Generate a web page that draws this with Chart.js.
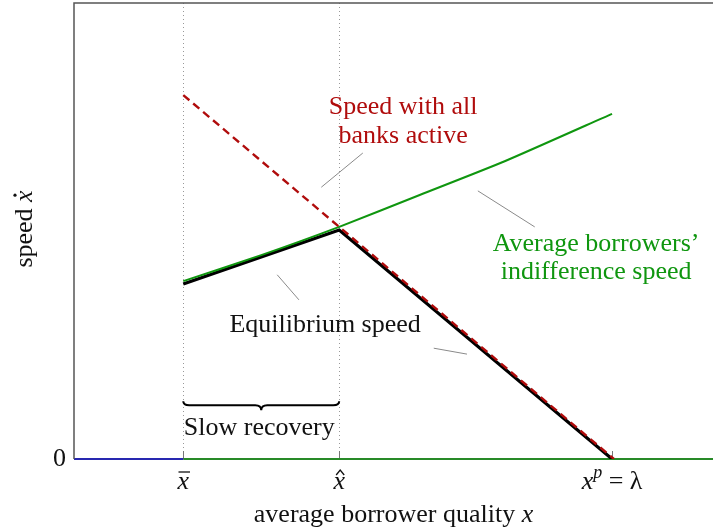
<!DOCTYPE html>
<html>
<head>
<meta charset="utf-8">
<script src="https://cdn.jsdelivr.net/npm/chart.js@4/dist/chart.umd.min.js"></script>
<style>html,body{margin:0;padding:0;background:#fff}canvas{display:block}</style>
</head>
<body>
<canvas id="speedChart" width="713" height="531"></canvas>
<script>
// positions on the quality axis (x) and speed axis (y), arbitrary units
const xBar = 1.71, xHat = 4.15, xP = 8.42, xMax = 10, yMax = 10;

const avgSpeedX = [1.71, 2.93, 4.15, 5.41, 6.74, 8.42];
const avgSpeedY = [3.90, 4.47, 5.09, 5.79, 6.53, 7.57];
const allActiveX = [1.71, 8.45];
const allActiveY = [7.98, 0];
const equilibriumX = [1.71, 4.15, 8.42];
const equilibriumY = [3.84, 5.02, 0];
const zeroLowX = [0, 1.71];
const zeroHighX = [1.71, 10];

const tickPositions = [xBar, xHat, xP];

const SERIF = '"Liberation Serif", serif';
const RED = "#b00c0c";
const GREEN = "#0f960f";

function pts(xs, ys) {
    return xs.map((x, i) => ({x: x, y: ys === null ? 0 : ys[i]}));
}

function drawPieces(ctx, pieces, cx, baseY, align) {
    let total = 0;
    pieces.forEach(p => { ctx.font = p.font; p.w = ctx.measureText(p.t).width; total += p.w; });
    let x = align === "left" ? cx : cx - total / 2;
    pieces.forEach(p => {
        ctx.font = p.font;
        ctx.textAlign = "left";
        ctx.fillText(p.t, x, baseY + (p.dy || 0));
        p.x0 = x;
        x += p.w;
    });
    return pieces;
}

function line(ctx, x1, y1, x2, y2) {
    ctx.beginPath();
    ctx.moveTo(x1, y1);
    ctx.lineTo(x2, y2);
    ctx.stroke();
}

const decorations = {
    id: "decorations",
    beforeDatasetsDraw(chart) {
        const {ctx, chartArea, scales: {x, y}} = chart;
        ctx.save();
        // dotted guides
        ctx.strokeStyle = "#999";
        ctx.lineWidth = 1;
        ctx.setLineDash([1, 3]);
        [xBar, xHat].forEach(v => {
            const px = Math.round(x.getPixelForValue(v)) + 0.5;
            line(ctx, px, chartArea.top, px, chartArea.bottom);
        });
        ctx.setLineDash([]);
        // small tick marks
        ctx.strokeStyle = "#777";
        tickPositions.forEach(v => {
            const px = Math.round(x.getPixelForValue(v)) + 0.5;
            line(ctx, px, chartArea.bottom, px, chartArea.bottom - 8);
        });
        ctx.restore();
    },
    afterDatasetsDraw(chart) {
        const {ctx, chartArea, scales: {x, y}} = chart;
        const X = v => x.getPixelForValue(v), Y = v => y.getPixelForValue(v);
        ctx.save();

        // frame (left + top)
        ctx.strokeStyle = "#555";
        ctx.lineWidth = 1.5;
        ctx.beginPath();
        ctx.moveTo(chartArea.left, chartArea.bottom);
        ctx.lineTo(chartArea.left, chartArea.top);
        ctx.lineTo(chartArea.right, chartArea.top);
        ctx.stroke();

        // pin lines
        ctx.strokeStyle = "#8a8a8a";
        ctx.lineWidth = 1;
        [[3.87, 5.96, 4.52, 6.71], [6.32, 5.88, 7.21, 5.09],
         [3.18, 4.04, 3.52, 3.49], [5.63, 2.43, 6.15, 2.30]].forEach(s => {
            line(ctx, X(s[0]), Y(s[1]), X(s[2]), Y(s[3]));
        });

        // annotation texts
        ctx.textBaseline = "middle";
        ctx.textAlign = "center";
        ctx.font = "26px " + SERIF;
        ctx.fillStyle = RED;
        ctx.fillText("Speed with all", X(5.15), Y(7.72));
        ctx.fillText("banks active", X(5.15), Y(7.08));
        ctx.fillStyle = GREEN;
        ctx.fillText("Average borrowers\u2019", X(8.17), Y(4.71));
        ctx.fillText("indifference speed", X(8.17), Y(4.10));
        ctx.fillStyle = "#111";
        ctx.fillText("Equilibrium speed", X(3.93), Y(2.94));
        ctx.fillText("Slow recovery", X(2.90), Y(0.68));

        // brace under the slow recovery span
        const bx1 = X(xBar), bx2 = X(xHat), by = Y(1.18), bm = (bx1 + bx2) / 2;
        ctx.strokeStyle = "#000";
        ctx.lineWidth = 2;
        ctx.beginPath();
        ctx.moveTo(bx1, by - 4);
        ctx.quadraticCurveTo(bx1, by, bx1 + 6, by);
        ctx.lineTo(bm - 6, by);
        ctx.quadraticCurveTo(bm, by, bm, by + 5);
        ctx.quadraticCurveTo(bm, by, bm + 6, by);
        ctx.lineTo(bx2 - 6, by);
        ctx.quadraticCurveTo(bx2, by, bx2, by - 4);
        ctx.stroke();

        // axis labels
        ctx.fillStyle = "#111";
        ctx.textBaseline = "middle";
        ctx.textAlign = "right";
        ctx.font = "26px " + SERIF;
        ctx.fillText("0", chartArea.left - 8, Y(0));

        ctx.textBaseline = "alphabetic";
        const it = "italic 26px " + SERIF;
        const base = 489;
        ctx.lineWidth = 1.3;
        ctx.strokeStyle = "#111";
        // x bar
        let p = drawPieces(ctx, [{t: "x", font: it}], X(xBar), base);
        line(ctx, p[0].x0 + 1, base - 17, p[0].x0 + p[0].w + 1, base - 17);
        // x hat
        p = drawPieces(ctx, [{t: "x", font: it}], X(xHat), base);
        const hc = p[0].x0 + p[0].w / 2 + 1;
        ctx.beginPath();
        ctx.moveTo(hc - 4, base - 14);
        ctx.lineTo(hc, base - 19);
        ctx.lineTo(hc + 4, base - 14);
        ctx.stroke();
        // x^p = lambda
        drawPieces(ctx, [
            {t: "x", font: it},
            {t: "p", font: "italic 18px " + SERIF, dy: -11},
            {t: " = ", font: "26px " + SERIF},
            {t: "\u03bb", font: "26px " + SERIF}
        ], X(xP), base);

        // x title
        drawPieces(ctx, [
            {t: "average borrower quality ", font: "26px " + SERIF},
            {t: "x", font: it}
        ], (chartArea.left + chartArea.right) / 2, 522);

        // y title, rotated
        ctx.save();
        ctx.translate(32, 229);
        ctx.rotate(-Math.PI / 2);
        p = drawPieces(ctx, [
            {t: "speed ", font: "26px " + SERIF},
            {t: "x", font: it}
        ], 0, 0);
        ctx.beginPath();
        ctx.arc(p[1].x0 + p[1].w / 2 + 1, -17, 1.6, 0, Math.PI * 2);
        ctx.fill();
        ctx.restore();

        ctx.restore();
    }
};

document.addEventListener("DOMContentLoaded", function () {
    const ctx = document.getElementById("speedChart").getContext("2d");
    new Chart(ctx, {
        type: "line",
        data: {
            datasets: [
                {
                    label: "Speed with all banks active",
                    data: pts(allActiveX, allActiveY),
                    borderColor: RED,
                    borderWidth: 2.4,
                    borderDash: [8, 5],
                    order: 0,
                },
                {
                    label: "Average borrowers' indifference speed",
                    data: pts(avgSpeedX, avgSpeedY),
                    borderColor: GREEN,
                    borderWidth: 2,
                    tension: 0.2,
                    order: 1,
                },
                {
                    label: "Equilibrium speed",
                    data: pts(equilibriumX, equilibriumY),
                    borderColor: "#000",
                    borderWidth: 3.2,
                    order: 2,
                },
                {
                    label: "zero low",
                    data: pts(zeroLowX, null),
                    borderColor: "#2828b0",
                    borderWidth: 2,
                    clip: false,
                    order: 3,
                },
                {
                    label: "zero high",
                    data: pts(zeroHighX, null),
                    borderColor: "#288a28",
                    borderWidth: 2,
                    clip: false,
                    order: 3,
                },
            ],
        },
        options: {
            responsive: false,
            animation: false,
            layout: {padding: {left: 74, top: 3, right: 0, bottom: 72}},
            elements: {point: {radius: 0}, line: {borderCapStyle: "butt"}},
            plugins: {legend: {display: false}, tooltip: {enabled: false}},
            scales: {
                x: {type: "linear", min: 0, max: xMax, display: false},
                y: {type: "linear", min: 0, max: yMax, display: false},
            },
        },
        plugins: [decorations],
    });
});
</script>
</body>
</html>
